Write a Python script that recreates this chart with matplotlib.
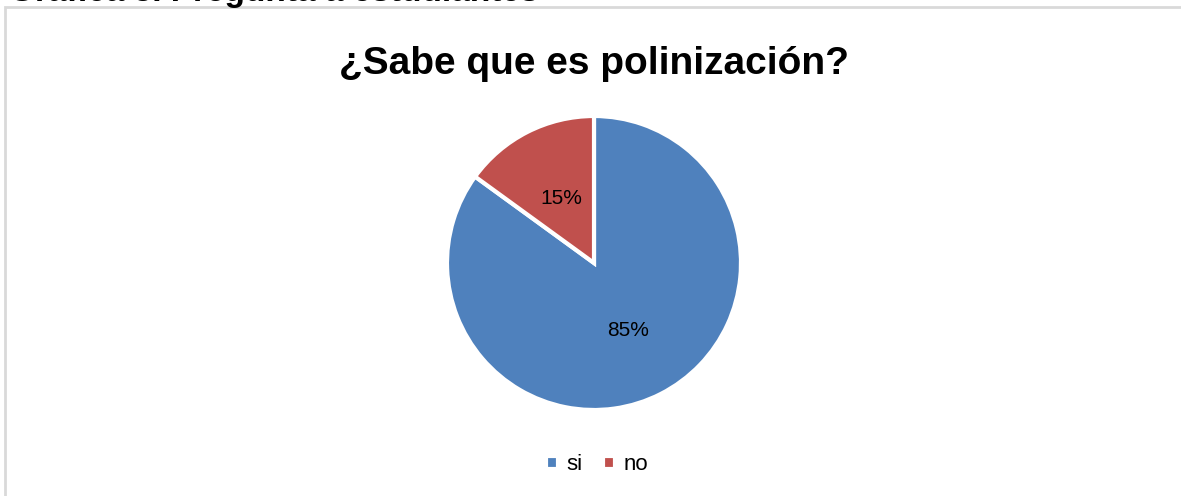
import matplotlib.pyplot as plt
from matplotlib.patches import Rectangle

# answers to the survey question
labels = ['si', 'no']
values = [85, 15]
colors = ['#4F81BD', '#C0504D']

fig = plt.figure(figsize=(11.81, 4.96), dpi=100)

# caption above the chart box (mostly cut off at the top)
fig.text(0.008, 1 - 1.5 / 496, 'Gráfica 3. Pregunta a estudiantes', fontsize=24, fontweight='bold',
         family='Liberation Sans', ha='left', va='baseline')

# chart frame
fig.patches.append(Rectangle((5 / 1181, -0.01), 1.0, 1 - 7 / 496 + 0.01,
                             transform=fig.transFigure, fill=False,
                             edgecolor='#D9D9D9', linewidth=2))

fig.text(594 / 1181, 1 - 64 / 496, '¿Sabe que es polinización?', fontsize=28,
         fontweight='bold', family='Liberation Sans', ha='center', va='center')

ax = fig.add_axes([(594 - 147) / 1181, (496 - 263 - 147) / 496, 294 / 1181, 294 / 496])
wedges, texts = ax.pie(values, colors=colors, startangle=90, counterclock=False,
                       wedgeprops=dict(edgecolor='white', linewidth=3))
ax.set_aspect('equal')
ax.set_xlim(-1, 1)
ax.set_ylim(-1, 1)

# percentage labels inside the slices
ax.text(0.23, -0.46, f'{values[0]}%', fontsize=15, family='Liberation Sans',
        ha='center', va='center')
ax.text(-0.22, 0.44, f'{values[1]}%', fontsize=15, family='Liberation Sans',
        ha='center', va='center')

fig.legend(wedges, labels, loc='center', bbox_to_anchor=(597 / 1181, 1 - 465 / 496),
           ncol=2, frameon=False, handlelength=0.55, handleheight=0.55,
           handletextpad=0.4, columnspacing=0.9,
           prop={'family': 'Liberation Sans', 'size': 16})

fig.savefig('out.png', dpi=100)
